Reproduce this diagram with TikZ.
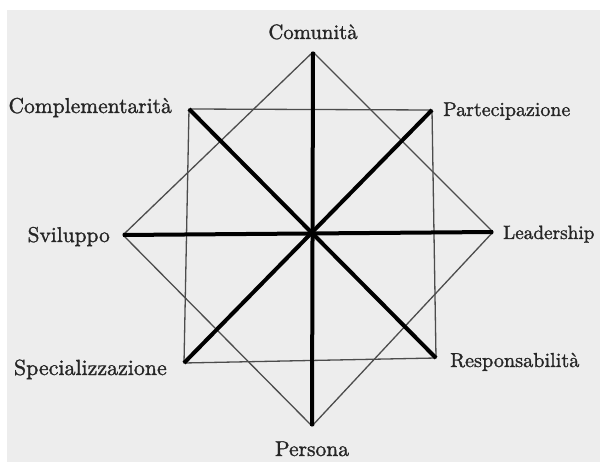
\documentclass[tikz,border=0pt]{standalone}
\usepackage{fontspec}
\newfontfamily\lblfont{lmroman10-regular.otf}[FakeBold=1.3]
\begin{document}
\begin{tikzpicture}[x=1bp,y=-1bp,
  thinline/.style={draw=black!70,line width=1.3bp},
  thickline/.style={draw=black,line width=4bp},
  lbl/.style={inner sep=0pt,font=\lblfont\fontsize{#1}{#1}\selectfont,text=black!85},
  lbl/.default=21]
\useasboundingbox (0,0) rectangle (600,462);
\fill[white] (0,0) rectangle (600,462);
\fill[black!7] (7,10) rectangle (600,462);
% vertices
\coordinate (C) at (313,52);
\coordinate (P) at (312,426);
\coordinate (S) at (123,235);
\coordinate (L) at (493,232);
\coordinate (TL) at (189,109);
\coordinate (TR) at (432,110);
\coordinate (BR) at (436,358);
\coordinate (BL) at (184,363);
% thin shapes
\draw[thinline] (C) -- (L) -- (P) -- (S) -- cycle;
\draw[thinline] (TL) -- (TR) -- (BR) -- (BL) -- cycle;
% thick axes
\draw[thickline] (C) -- (P);
\draw[thickline] (S) -- (L);
\draw[thickline] (TL) -- (BR);
\draw[thickline] (TR) -- (BL);
% labels
\node[lbl=20.8,anchor=base] (lc) at (313,39) {Comunità};
\node[lbl=21.6,anchor=base east] (lcm) at (172,113) {Complementarità};
\node[lbl=20,anchor=base west] (lpa) at (443,116) {Partecipazione};
\node[lbl=21.5,anchor=base east] (lsv) at (110,242) {Sviluppo};
\node[lbl=19.3,anchor=base west] (lle) at (503,239) {Leadership};
\node[lbl=22,anchor=base east] (lsp) at (167,375) {Specializzazione};
\node[lbl=20.3,anchor=base west] (lre) at (450,367) {Responsabilità};
\node[lbl=21.6,anchor=base] (lpe) at (312,456) {Persona};
\end{tikzpicture}
\end{document}
